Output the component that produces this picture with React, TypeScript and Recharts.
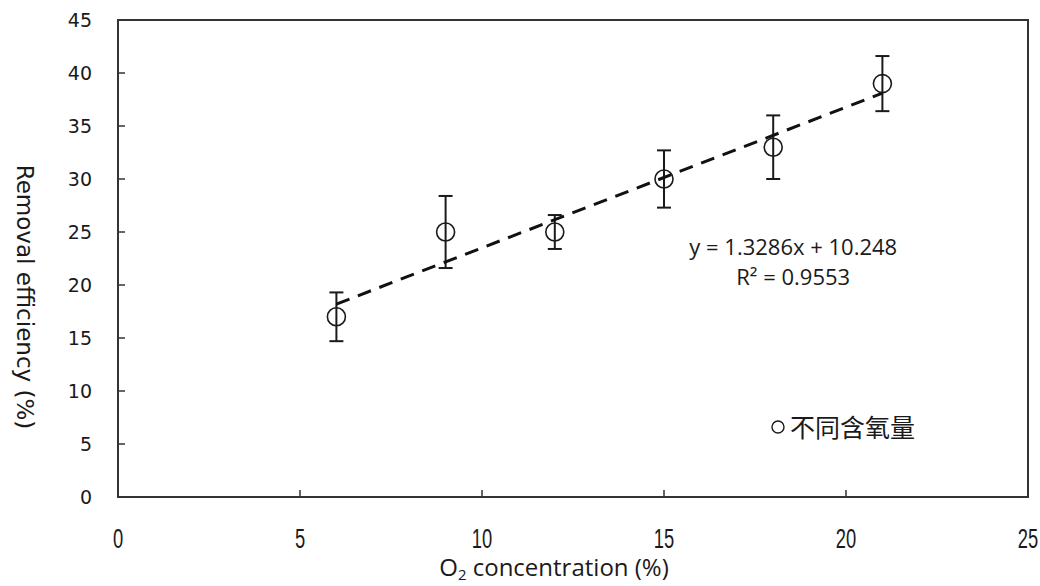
import React from 'react';
import {
  ScatterChart,
  Scatter,
  XAxis,
  YAxis,
  ErrorBar,
  ReferenceArea,
  ReferenceDot,
  Legend,
  Label,
} from 'recharts';

// O2 concentration (%) vs removal efficiency (%)
const o2Levels = [6, 9, 12, 15, 18, 21];
const removalPct = [17, 25, 25, 30, 33, 39];
const removalErr = [2.3, 3.4, 1.6, 2.7, 3.0, 2.6];

// linear trend line end points (y = 1.3286x + 10.248)
const trendX = [6, 21];
const trendY = [18.2, 38.1];

const xTicks = [0, 5, 10, 15, 20, 25];
const yTicks = [0, 5, 10, 15, 20, 25, 30, 35, 40, 45];

const equationText = 'y = 1.3286x + 10.248';
const r2Text = 'R\u00B2 = 0.9553';
const seriesName = '不同含氧量';

const points = o2Levels.map((x, i) => ({ x, y: removalPct[i], err: removalErr[i] }));
const trend = trendX.map((x, i) => ({ x, y: trendY[i] }));

const INK = '#1a1a1a';

const RingMarker = (props: any) => (
  <circle cx={props.cx} cy={props.cy} r={9} fill="none" stroke={INK} strokeWidth={1.6} />
);

const NoMarker = () => <g />;

// x tick labels in the original use a tall, narrow face
const XTick = (props: any) => {
  const { x, y, payload } = props;
  return (
    <g transform={`translate(${x},${y})`}>
      <text
        transform="scale(0.68,1)"
        textAnchor="middle"
        dy="0.71em"
        fill={INK}
        fontSize={27}
        fontFamily="'Liberation Sans', Arial, sans-serif"
      >
        {payload.value}
      </text>
    </g>
  );
};

const XTitle = (props: any) => {
  const vb = props.viewBox;
  return (
    <text
      x={vb.x + vb.width / 2 - 19}
      y={vb.y + 79}
      textAnchor="middle"
      fill={INK}
      fontFamily="'Open Sans', sans-serif"
      fontSize={24}
    >
      <tspan>O</tspan>
      <tspan dy={4} fontSize={15}>2</tspan>
      <tspan dy={-4}> concentration (%)</tspan>
    </text>
  );
};

const YTitle = () => {
  const cx = 25;
  const cy = 297;
  return (
    <text
      x={cx}
      y={cy}
      transform={`rotate(90 ${cx} ${cy})`}
      textAnchor="middle"
      dominantBaseline="central"
      fill={INK}
      fontFamily="'DejaVu Sans', sans-serif"
      fontSize={23}
    >
      Removal efficiency (%)
    </text>
  );
};

const LegendBox = () => (
  <div
    style={{
      display: 'flex',
      alignItems: 'center',
      fontFamily: "'Noto Sans CJK SC', sans-serif",
      fontSize: 25,
      color: INK,
      lineHeight: 1,
    }}
  >
    <svg width={16} height={16} style={{ marginRight: 4 }}>
      <circle cx={8} cy={8} r={6} fill="none" stroke={INK} strokeWidth={1.4} />
    </svg>
    {seriesName}
  </div>
);

export default function App() {
  return (
    <div style={{ position: 'absolute', left: 0, top: 0, background: '#fff' }}>
      <ScatterChart width={1040} height={586} margin={{ top: 20, right: 12, bottom: 0, left: 0 }}>
        <XAxis
          type="number"
          dataKey="x"
          domain={[0, 25]}
          ticks={xTicks}
          interval={0}
          height={89}
          axisLine={{ stroke: '#333', strokeWidth: 2 }}
          tickLine={{ stroke: '#333', strokeWidth: 1.5 }}
          tickSize={-7}
          tickMargin={39}
          tick={XTick}
        >
          <Label content={XTitle} />
        </XAxis>
        <YAxis
          type="number"
          dataKey="y"
          domain={[0, 45]}
          ticks={yTicks}
          interval={0}
          width={118}
          axisLine={{ stroke: '#333', strokeWidth: 2 }}
          tickLine={{ stroke: '#333', strokeWidth: 1.5 }}
          tickSize={-7}
          tickMargin={33}
          tick={{ fill: INK, fontSize: 19, fontFamily: "'DejaVu Sans', sans-serif" }}
        >
          <Label content={YTitle} />
        </YAxis>
        <ReferenceArea x1={0} x2={25} y1={0} y2={45} fill="none" stroke="#333" strokeWidth={2} ifOverflow="visible" />
        <Scatter
          name="trend"
          data={trend}
          shape={NoMarker}
          line={{ stroke: '#111', strokeWidth: 3, strokeDasharray: '14 9' }}
          legendType="none"
          isAnimationActive={false}
        />
        <Scatter name={seriesName} data={points} shape={RingMarker} isAnimationActive={false}>
          <ErrorBar dataKey="err" direction="y" width={7} stroke={INK} strokeWidth={2} />
        </Scatter>
        <ReferenceDot
          x={18.55}
          y={23.6}
          r={0}
          ifOverflow="visible"
          label={{ value: equationText, position: 'center', fill: INK, fontSize: 22, fontFamily: "'Open Sans', sans-serif" }}
        />
        <ReferenceDot
          x={18.55}
          y={20.7}
          r={0}
          ifOverflow="visible"
          label={{ value: r2Text, position: 'center', fill: INK, fontSize: 22, fontFamily: "'Open Sans', sans-serif" }}
        />
        <Legend
          layout="horizontal"
          verticalAlign="middle"
          align="center"
          content={LegendBox}
          wrapperStyle={{ position: 'absolute', left: 770, top: 414, width: 'auto' }}
        />
      </ScatterChart>
    </div>
  );
}
